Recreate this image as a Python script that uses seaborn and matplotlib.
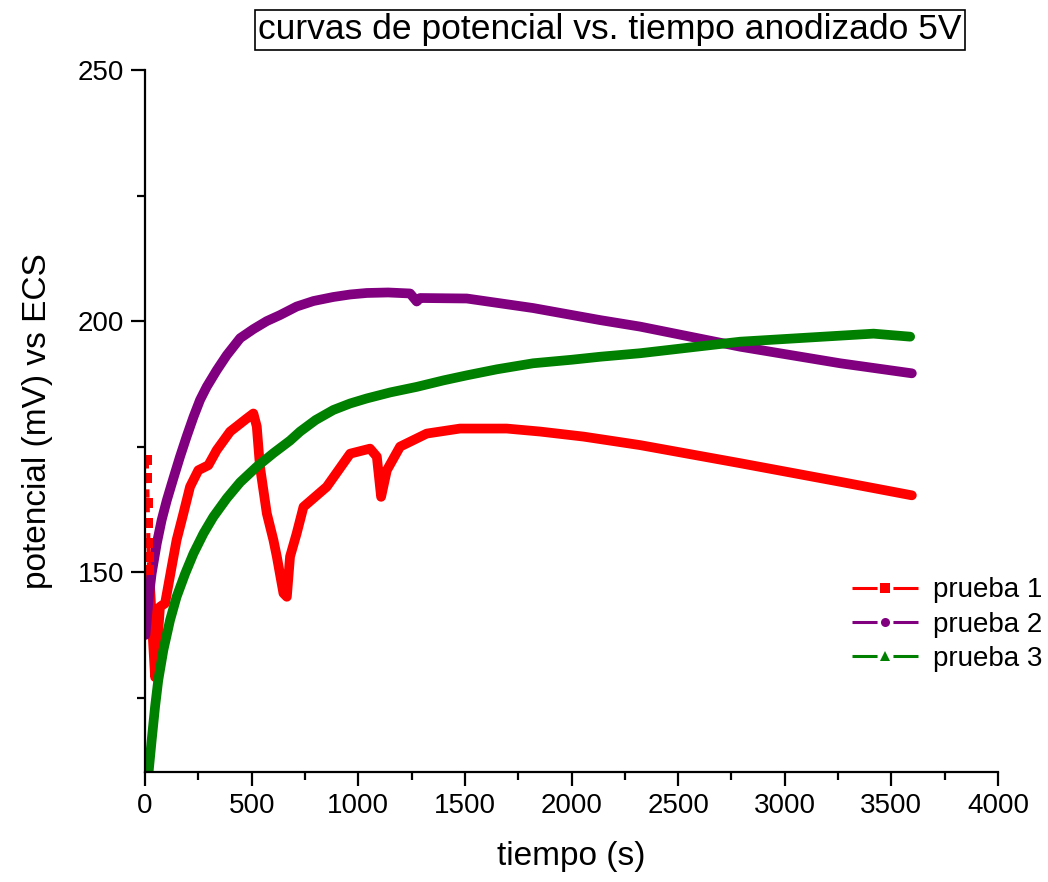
import matplotlib
matplotlib.use("Agg")
import matplotlib.pyplot as plt
from matplotlib.lines import Line2D
from matplotlib.ticker import MultipleLocator
import seaborn as sns
import pandas as pd

# potential readings (mV vs ECS) against time (s)
# prueba 1: sparse first seconds, then the dense record
t_p1_start = [8, 10, 12, 14, 16, 18, 20]
v_p1_start = [172.3, 168.7, 163.7, 159.8, 155.8, 153.0, 150.4]

t_p1 = [20, 30, 47, 70, 94, 125, 148, 180, 211, 250, 297, 336, 399, 477, 508,
        524, 539, 571, 602, 618, 649, 665, 680, 711, 743, 852, 962, 1055, 1087,
        1107, 1134, 1196, 1321, 1477, 1696, 1853, 2056, 2322, 2791, 3260, 3596]
v_p1 = [150.0, 141.8, 129.1, 143.1, 143.8, 151.1, 156.4, 161.7, 167.0,
        170.3, 171.3, 174.3, 178.0, 180.6, 181.6, 179.0, 171.0, 161.7, 156.4,
        153.1, 145.8, 145.1, 153.1, 157.7, 163.0, 167.0, 173.6, 174.6, 173.0,
        165.0, 170.3, 175.0, 177.6, 178.6, 178.6, 178.0, 177.0, 175.3, 171.7,
        168.0, 165.3]

t_p2 = [2, 16, 31, 55, 78, 102, 133, 164, 195, 227, 258, 289, 336, 383, 446,
        508, 571, 633, 711, 790, 883, 962, 1040, 1140, 1243, 1274, 1290, 1509,
        1820, 2134, 2322, 2791, 3260, 3596]
v_p2 = [137.5, 144.4, 149.7, 155.7, 160.4, 164.3, 168.7, 173.0, 177.0, 180.9,
        184.3, 186.9, 190.2, 193.2, 196.6, 198.4, 200.0, 201.2, 202.9, 204.0,
        204.8, 205.3, 205.6, 205.7, 205.5, 203.9, 204.6, 204.5, 202.6, 200.2,
        198.9, 194.9, 191.6, 189.6]

t_p3 = [16, 31, 47, 62, 86, 117, 148, 188, 227, 274, 320, 383, 446, 524, 602,
        680, 727, 800, 883, 962, 1040, 1150, 1274, 1400, 1509, 1650, 1820, 2000,
        2134, 2322, 2791, 3181, 3416, 3588]
v_p3 = [109.9, 116.5, 123.2, 128.5, 134.5, 140.4, 145.1, 149.7, 153.7, 157.7,
        161.0, 164.7, 167.9, 171.0, 173.7, 176.2, 178.0, 180.3, 182.3, 183.6,
        184.6, 185.8, 186.9, 188.2, 189.2, 190.4, 191.6, 192.3, 192.9, 193.6,
        195.9, 196.9, 197.5, 196.9]

labels = ["prueba 1", "prueba 2", "prueba 3"]
colors = ["#ff0000", "#800080", "#008000"]
markers = ["s", "o", "^"]

df = pd.concat([
    pd.DataFrame({"t": t_p1, "v": v_p1, "serie": labels[0]}),
    pd.DataFrame({"t": t_p2, "v": v_p2, "serie": labels[1]}),
    pd.DataFrame({"t": t_p3, "v": v_p3, "serie": labels[2]}),
])
df_start = pd.DataFrame({"t": t_p1_start, "v": v_p1_start})

sns.set_style("ticks")
plt.rcParams["font.family"] = ["Liberation Sans", "DejaVu Sans"]
plt.rcParams.update({"text.color": "black", "axes.labelcolor": "black",
                     "xtick.color": "black", "ytick.color": "black"})

fig = plt.figure(figsize=(10.48, 8.82), dpi=100)
ax = fig.add_axes([0.1384, 0.1247, 0.8139, 0.7959])

sns.lineplot(data=df, x="t", y="v", hue="serie", palette=colors, sort=False,
             estimator=None, linewidth=7, legend=False, ax=ax,
             solid_capstyle="round", solid_joinstyle="round")
sns.lineplot(data=df_start, x="t", y="v", color=colors[0], sort=False,
             estimator=None, linewidth=3, linestyle=(0, (2, 1.5)), marker="s",
             markersize=7, markeredgewidth=0, legend=False, ax=ax)

ax.set_xlim(0, 4000)
ax.set_ylim(110.2, 250)
ax.set_xlabel("tiempo (s)", fontsize=24, labelpad=16)
ax.set_ylabel("potencial (mV) vs ECS", fontsize=24, labelpad=18)
ax.xaxis.set_major_locator(MultipleLocator(500))
ax.xaxis.set_minor_locator(MultipleLocator(250))
ax.yaxis.set_major_locator(MultipleLocator(50))
ax.yaxis.set_minor_locator(MultipleLocator(25))
ax.tick_params(which="major", length=10, width=1.6, labelsize=20, pad=5,
               direction="out")
ax.tick_params(which="minor", length=6, width=1.6, direction="out")
for side in ["top", "right"]:
    ax.spines[side].set_visible(False)
for side in ["left", "bottom"]:
    ax.spines[side].set_linewidth(1.6)
    ax.spines[side].set_color("black")

handles = [Line2D([0], [0], color=c, lw=2.2, linestyle=(0, (8.2, 5.2)),
                  marker=m, markersize=6.5, markeredgewidth=0)
           for c, m in zip(colors, markers)]
ax.legend(handles, labels, loc="center left", bbox_to_anchor=(0.829, 0.21),
          frameon=False, fontsize=20, handlelength=2.4, handletextpad=0.5,
          labelspacing=0.3, borderaxespad=0, borderpad=0)

fig.text(0.582, 0.966, "curvas de potencial vs. tiempo anodizado 5V",
         ha="center", va="center", fontsize=25.5,
         bbox=dict(boxstyle="square,pad=0.1", facecolor="white",
                   edgecolor="black", linewidth=1.2))

fig.savefig("out.png", dpi=100)
